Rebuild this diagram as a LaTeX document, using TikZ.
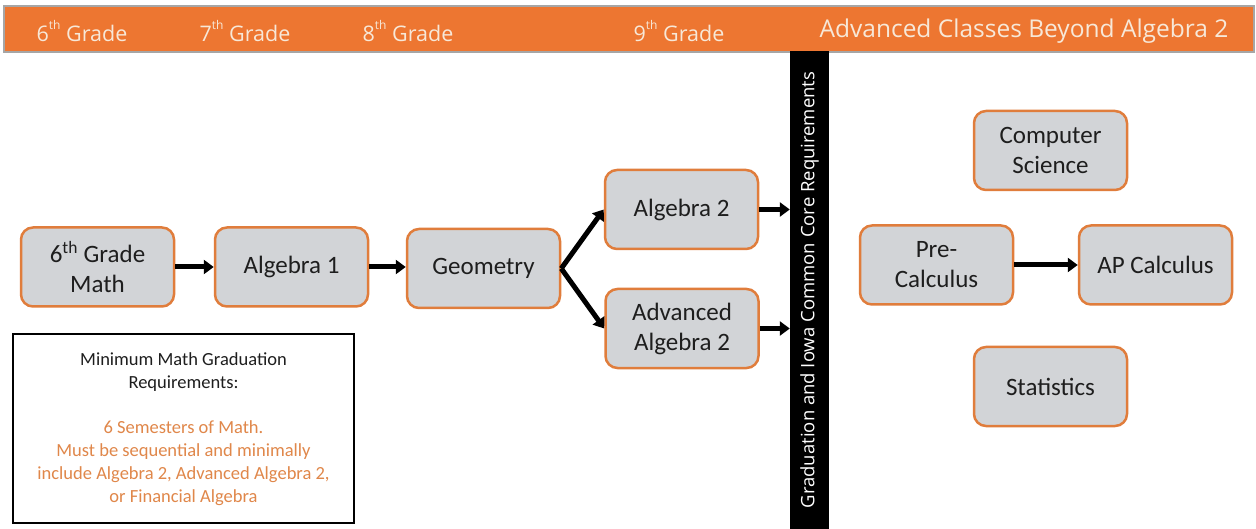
\documentclass[tikz,border=0pt]{standalone}
\usepackage{fontspec}
\setmainfont{Carlito}
\newfontfamily\headfont{Open Sans}
\usetikzlibrary{arrows.meta}
\definecolor{hdrorange}{HTML}{ED7631}
\definecolor{hdrtext}{HTML}{F7E8D8}
\definecolor{boxgray}{HTML}{D2D4D7}
\definecolor{boxorange}{HTML}{E07D3C}
\definecolor{noteorange}{HTML}{E0874A}
\definecolor{txtdark}{HTML}{1E1E1E}
\newcommand{\smallth}{\raisebox{0.55em}{\fontsize{12}{12}\selectfont th}}
\begin{document}
\begin{tikzpicture}[x=1pt,y=-1pt,
  course/.style={draw=boxorange, line width=2.5pt, fill=boxgray, rounded corners=12pt,
    minimum width=153pt, minimum height=79pt, align=center, text=txtdark,
    font=\fontsize{25}{30}\selectfont},
  flow/.style={line width=5pt, -{Triangle[length=10pt,width=14pt]}, black},
  hdrlabel/.style={text=hdrtext, font=\headfont\fontsize{21.5}{25}\selectfont, inner sep=0pt}
]
\path[fill=white, use as bounding box] (0,0) rectangle (1256,529);

% header bar
\node[draw=gray!70, line width=1.2pt, fill=hdrorange, minimum width=1250pt, minimum height=46pt, inner sep=0pt] (header) at (629,29) {};
\node[hdrlabel] (g6) at (82,31) {6\smallth{} Grade};
\node[hdrlabel] (g7) at (245,31) {7\smallth{} Grade};
\node[hdrlabel] (g8) at (408,31) {8\smallth{} Grade};
\node[hdrlabel] (g9) at (679,31) {9\smallth{} Grade};
\node[hdrlabel, font=\headfont\fontsize{24.5}{28}\selectfont] (gadv) at (1024,31) {Advanced Classes Beyond Algebra 2};

% black requirement bar
\node[rotate=90, fill=black, text=white, minimum width=478pt, minimum height=39pt, inner sep=0pt,
  font=\headfont\fontsize{18.5}{20}\selectfont] (bar) at (809.5,290) {Graduation and Iowa Common Core Requirements};

% courses
\node[course] (m6) at (97.5,267) {6\textsuperscript{th} Grade\\Math};
\node[course] (a1) at (291.5,267) {Algebra 1};
\node[course] (geo) at (483.5,268.5) {Geometry};
\node[course] (alg2) at (681.5,209.5) {Algebra 2};
\node[course] (adv) at (682,328.5) {Advanced\\Algebra 2};
\node[course] (cs) at (1050.5,150.5) {Computer\\Science};
\node[course] (pre) at (936.5,265) {Pre-\\Calculus};
\node[course] (ap) at (1155.5,265) {AP Calculus};
\node[course] (stat) at (1050.5,386.5) {Statistics};

% arrows
\draw[flow] (m6.east) -- (a1.west);
\draw[flow] (a1.east) -- (a1.east -| geo.west);
\draw[flow] (geo.east) -- (alg2.west);
\draw[flow] (geo.east) -- (adv.west);
\draw[flow] (alg2.east) -- (alg2.east -| bar.north);
\draw[flow] (adv.east) -- (adv.east -| bar.north);
\draw[flow] (pre.east) -- (ap.west);

% note box
\node[draw=black, line width=2pt, fill=white, minimum width=341pt, minimum height=189pt] (note) at (183.5,428.5) {};
\node[align=center, font=\fontsize{18.5}{23}\selectfont, text=txtdark] (notetext) at ([yshift=-1pt]note.center)
  {Minimum Math Graduation\\Requirements:\\[22pt]
   \textcolor{noteorange}{6 Semesters of Math.}\\
   \textcolor{noteorange}{Must be sequential and minimally}\\
   \textcolor{noteorange}{include Algebra 2, Advanced Algebra 2,}\\
   \textcolor{noteorange}{or Financial Algebra}};
\end{tikzpicture}
\end{document}
